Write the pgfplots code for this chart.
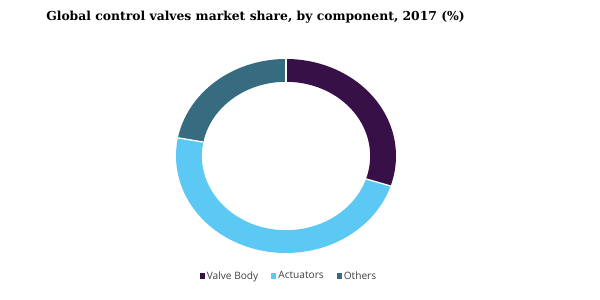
\documentclass[border=0pt]{standalone}
\usepackage{pgfplots}
\pgfplotsset{compat=1.18}
\usepackage{pgfplotstable}
\usepackage{fontspec}
\setmainfont{Liberation Serif}
\newfontfamily\titlefont{DejaVu Serif}
\newfontfamily\legfont{Open Sans}
\definecolor{cValve}{RGB}{55,16,72}
\definecolor{cAct}{RGB}{91,201,244}
\definecolor{cOth}{RGB}{55,108,128}
\definecolor{legtext}{RGB}{64,64,64}

\pgfplotstableread{
idx value
0 30
1 48
2 22
}\sharetable
\pgfplotstablegetelem{0}{value}\of\sharetable \let\vA\pgfplotsretval
\pgfplotstablegetelem{1}{value}\of\sharetable \let\vB\pgfplotsretval
\pgfplotstablegetelem{2}{value}\of\sharetable \let\vC\pgfplotsretval
\pgfmathsetmacro\aA{90}
\pgfmathsetmacro\bA{\aA-3.6*\vA}
\pgfmathsetmacro\bB{\bA-3.6*\vB}
\pgfmathsetmacro\bC{\bB-3.6*\vC}

\begin{document}
\begin{tikzpicture}[
  declare function={
    ff(\t)=(\t<=1) ? 1 : ((\t<=2) ? 1-(1-0.765)*(\t-1) : 0.765);
    th(\t,\a,\b)=(\t<=1) ? \a+(\b-\a)*\t : ((\t<=2) ? \b : \b-(\b-\a)*(\t-2));
  }]
\useasboundingbox (0,0) rectangle (600bp,300bp);
\begin{axis}[
  at={(0,0)}, anchor=south west,
  scale only axis, width=600bp, height=300bp,
  xmin=0, xmax=600, ymin=0, ymax=300,
  hide axis, clip=false,
  legend style={at={(axis cs:289,24)}, anchor=center, draw=none, fill=none,
    legend columns=3, font=\legfont\fontsize{10.2}{12}\selectfont, text=legtext,
    /tikz/every even column/.append style={column sep=11bp}},
  legend image code/.code={\fill[#1] (0bp,-2.5bp) rectangle (5bp,2.5bp);},
]
\addplot[fill=cValve, draw=none, domain=0:3, samples=301, variable=\t]
  ({286+110*ff(\t)*cos(th(\t,\aA,\bA))}, {144+97*ff(\t)*sin(th(\t,\aA,\bA))});
\addlegendentry{Valve Body}
\addplot[fill=cAct, draw=none, domain=0:3, samples=301, variable=\t]
  ({286+110*ff(\t)*cos(th(\t,\bA,\bB))}, {144+97*ff(\t)*sin(th(\t,\bA,\bB))});
\addlegendentry{Actuators}
\addplot[fill=cOth, draw=none, domain=0:3, samples=301, variable=\t]
  ({286+110*ff(\t)*cos(th(\t,\bB,\bC))}, {144+97*ff(\t)*sin(th(\t,\bB,\bC))});
\addlegendentry{Others}
\addplot[white, line width=1.3pt, domain=1:2, samples=2, variable=\t, forget plot]
  ({286+110*ff(\t)*cos(th(\t,\aA,\bA))}, {144+97*ff(\t)*sin(th(\t,\aA,\bA))});
\addplot[white, line width=1.3pt, domain=1:2, samples=2, variable=\t, forget plot]
  ({286+110*ff(\t)*cos(th(\t,\bA,\bB))}, {144+97*ff(\t)*sin(th(\t,\bA,\bB))});
\addplot[white, line width=1.3pt, domain=1:2, samples=2, variable=\t, forget plot]
  ({286+110*ff(\t)*cos(th(\t,\bB,\bC))}, {144+97*ff(\t)*sin(th(\t,\bB,\bC))});
\node[font=\titlefont\bfseries\fontsize{12.4}{14}\selectfont, text=black]
  at (axis cs:255.5,283) {Global control valves market share, by component, 2017 (\%)};
\end{axis}
\end{tikzpicture}
\end{document}
